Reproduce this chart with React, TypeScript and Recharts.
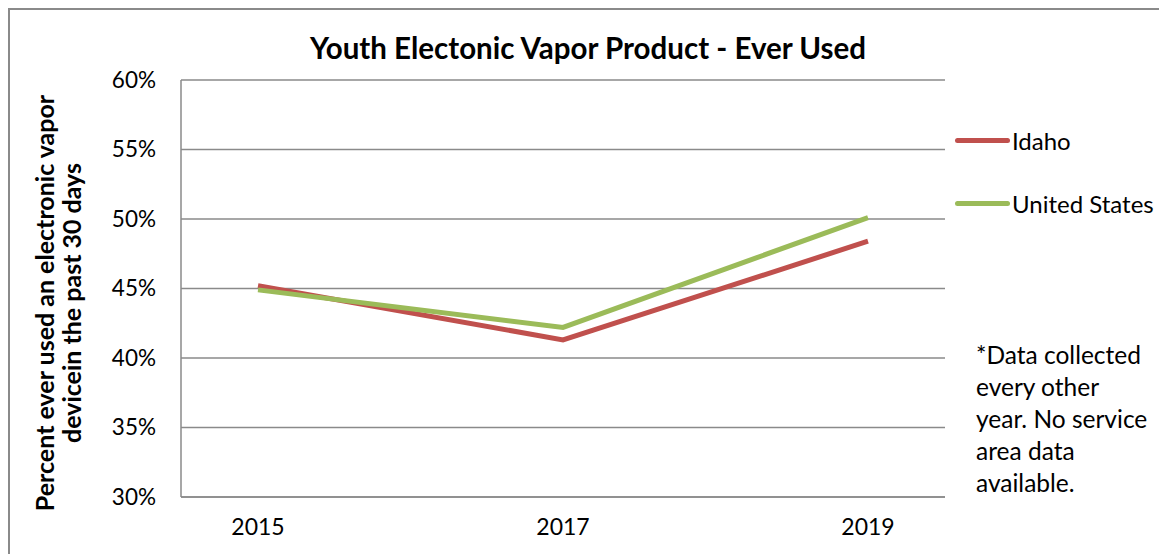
import React from "react";
import { LineChart, Line, XAxis, YAxis, CartesianGrid } from "recharts";

const years = ["2015", "2017", "2019"];
const idaho = [45.2, 41.3, 48.4];
const unitedStates = [44.9, 42.2, 50.1];
const yTicks = [30, 35, 40, 45, 50, 55, 60];
const seriesNames = ["Idaho", "United States"];
const seriesColors = ["#C0504D", "#9BBB59"];
const title = "Youth Electonic Vapor Product - Ever Used";
const yLabelLines = ["Percent ever used an electronic vapor", "devicein the past 30 days"];
const noteLines = ["*Data collected", "every other", "year. No service", "area data", "available."];

const data = years.map((y, i) => ({ year: y, idaho: idaho[i], us: unitedStates[i] }));

const FONT = "Lato, 'Noto Sans', sans-serif";
const GRID = "#8a8a8a";

export default function App() {
  const W = 1159;
  const H = 546;
  return (
    <div style={{ position: "relative", width: W, height: H, fontFamily: FONT, color: "#000", overflow: "hidden" }}>
      <div style={{ position: "absolute", left: 0, top: 0, width: W + 10, height: H + 10, borderTop: `2px solid ${GRID}`, borderLeft: `2px solid ${GRID}`, boxSizing: "border-box" }} />
      <LineChart width={W} height={H} data={data} margin={{ top: 72, right: 222, bottom: 27, left: 93 }}>
        <CartesianGrid horizontal={true} vertical={false} stroke={GRID} strokeWidth={1.5} />
        <XAxis
          dataKey="year"
          padding={{ left: 77, right: 77 }}
          height={30}
          tickLine={false}
          tickSize={0}
          tickMargin={22}
          axisLine={{ stroke: GRID, strokeWidth: 1.5 }}
          tick={{ fill: "#000", fontSize: 23, fontFamily: FONT }}
        />
        <YAxis
          domain={[30, 60]}
          ticks={yTicks}
          width={80}
          tickLine={false}
          tickSize={0}
          tickMargin={25}
          interval={0}
          axisLine={{ stroke: GRID, strokeWidth: 1.5 }}
          tickFormatter={(v) => `${v}%`}
          tick={{ fill: "#000", fontSize: 22.5, fontFamily: FONT }}
        />
        <Line type="linear" dataKey="idaho" name={seriesNames[0]} stroke={seriesColors[0]} strokeWidth={5} dot={false} isAnimationActive={false} />
        <Line type="linear" dataKey="us" name={seriesNames[1]} stroke={seriesColors[1]} strokeWidth={5} dot={false} isAnimationActive={false} />
      </LineChart>
      <div style={{ position: "absolute", left: 0, width: 1160, top: 22, fontWeight: 700, fontSize: 29.5, lineHeight: "36px" }}>
        <span style={{ position: "absolute", left: 580, transform: "translateX(-50%)", whiteSpace: "nowrap" }}>{title}</span>
      </div>
      <div style={{ position: "absolute", left: 50, top: 295, width: 0, height: 0 }}>
        <div style={{ position: "absolute", left: 0, top: 0, transform: "translate(-50%, -50%) rotate(-90deg)", whiteSpace: "nowrap", textAlign: "center", fontWeight: 700, fontSize: 25, lineHeight: "27px" }}>
          {yLabelLines.map((l) => (
            <div key={l}>{l}</div>
          ))}
        </div>
      </div>
      {seriesNames.map((n, i) => (
        <div key={n} style={{ position: "absolute", left: 947, top: 116 + i * 63, height: 32, display: "flex", alignItems: "center", fontSize: 24, whiteSpace: "nowrap" }}>
          <div style={{ width: 55, height: 5, borderRadius: 3, background: seriesColors[i], marginRight: 2 }} />
          <span>{n}</span>
        </div>
      ))}
      <div style={{ position: "absolute", left: 968, top: 331, fontSize: 24.5, lineHeight: "32px", whiteSpace: "nowrap" }}>
        {noteLines.map((l) => (
          <div key={l}>{l}</div>
        ))}
      </div>
    </div>
  );
}
